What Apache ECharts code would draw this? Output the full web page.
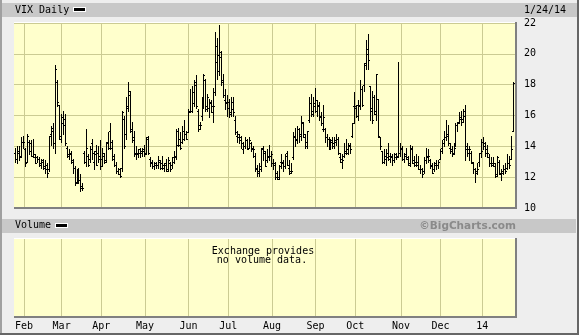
<!DOCTYPE html>
<html><head><meta charset="utf-8">
<script src="https://cdn.jsdelivr.net/npm/echarts@6/dist/echarts.min.js"></script>
<style>html,body{margin:0;padding:0;background:#eeeeee}#c{width:579px;height:335px}</style>
</head><body><div id="c"></div>
<script>
const dates = [
'2013-01-25','2013-01-28','2013-01-29','2013-01-30','2013-01-31',
'2013-02-01','2013-02-04','2013-02-05','2013-02-06','2013-02-07','2013-02-08','2013-02-11','2013-02-12','2013-02-13','2013-02-14','2013-02-15','2013-02-19','2013-02-20','2013-02-21','2013-02-22','2013-02-25','2013-02-26','2013-02-27','2013-02-28',
'2013-03-01','2013-03-04','2013-03-05','2013-03-06','2013-03-07','2013-03-08','2013-03-11','2013-03-12','2013-03-13','2013-03-14','2013-03-15','2013-03-18','2013-03-19','2013-03-20','2013-03-21','2013-03-22','2013-03-25','2013-03-26','2013-03-27','2013-03-28',
'2013-04-01','2013-04-02','2013-04-03','2013-04-04','2013-04-05','2013-04-08','2013-04-09','2013-04-10','2013-04-11','2013-04-12','2013-04-15','2013-04-16','2013-04-17','2013-04-18','2013-04-19','2013-04-22','2013-04-23','2013-04-24','2013-04-25','2013-04-26','2013-04-29','2013-04-30',
'2013-05-01','2013-05-02','2013-05-03','2013-05-06','2013-05-07','2013-05-08','2013-05-09','2013-05-10','2013-05-13','2013-05-14','2013-05-15','2013-05-16','2013-05-17','2013-05-20','2013-05-21','2013-05-22','2013-05-23','2013-05-24','2013-05-28','2013-05-29','2013-05-30','2013-05-31',
'2013-06-03','2013-06-04','2013-06-05','2013-06-06','2013-06-07','2013-06-10','2013-06-11','2013-06-12','2013-06-13','2013-06-14','2013-06-17','2013-06-18','2013-06-19','2013-06-20','2013-06-21','2013-06-24','2013-06-25','2013-06-26','2013-06-27','2013-06-28',
'2013-07-01','2013-07-02','2013-07-03','2013-07-05','2013-07-08','2013-07-09','2013-07-10','2013-07-11','2013-07-12','2013-07-15','2013-07-16','2013-07-17','2013-07-18','2013-07-19','2013-07-22','2013-07-23','2013-07-24','2013-07-25','2013-07-26','2013-07-29','2013-07-30','2013-07-31',
'2013-08-01','2013-08-02','2013-08-05','2013-08-06','2013-08-07','2013-08-08','2013-08-09','2013-08-12','2013-08-13','2013-08-14','2013-08-15','2013-08-16','2013-08-19','2013-08-20','2013-08-21','2013-08-22','2013-08-23','2013-08-26','2013-08-27','2013-08-28','2013-08-29','2013-08-30',
'2013-09-03','2013-09-04','2013-09-05','2013-09-06','2013-09-09','2013-09-10','2013-09-11','2013-09-12','2013-09-13','2013-09-16','2013-09-17','2013-09-18','2013-09-19','2013-09-20','2013-09-23','2013-09-24','2013-09-25','2013-09-26','2013-09-27','2013-09-30',
'2013-10-01','2013-10-02','2013-10-03','2013-10-04','2013-10-07','2013-10-08','2013-10-09','2013-10-10','2013-10-11','2013-10-14','2013-10-15','2013-10-16','2013-10-17','2013-10-18','2013-10-21','2013-10-22','2013-10-23','2013-10-24','2013-10-25','2013-10-28','2013-10-29','2013-10-30','2013-10-31',
'2013-11-01','2013-11-04','2013-11-05','2013-11-06','2013-11-07','2013-11-08','2013-11-11','2013-11-12','2013-11-13','2013-11-14','2013-11-15','2013-11-18','2013-11-19','2013-11-20','2013-11-21','2013-11-22','2013-11-25','2013-11-26','2013-11-27','2013-11-29',
'2013-12-02','2013-12-03','2013-12-04','2013-12-05','2013-12-06','2013-12-09','2013-12-10','2013-12-11','2013-12-12','2013-12-13','2013-12-16','2013-12-17','2013-12-18','2013-12-19','2013-12-20','2013-12-23','2013-12-24','2013-12-26','2013-12-27','2013-12-30','2013-12-31',
'2014-01-02','2014-01-03','2014-01-06','2014-01-07','2014-01-08','2014-01-09','2014-01-10','2014-01-13','2014-01-14','2014-01-15','2014-01-16','2014-01-17','2014-01-21','2014-01-22','2014-01-23','2014-01-24'
];
const opens = [
13.6,13.2,13.7,13.4,14.3,13.8,13.0,14.3,14.2,13.4,
13.3,13.3,13.2,12.8,13.1,12.6,12.8,12.5,14.8,15.0,
14.2,18.2,16.7,14.5,15.9,15.8,13.9,13.4,13.6,13.0,
12.6,11.7,12.4,11.8,11.4,13.6,13.0,13.4,13.2,14.2,
13.0,13.7,13.6,13.4,13.2,13.4,13.1,14.3,15.0,14.3,
13.4,12.8,12.4,12.5,12.6,15.8,14.8,16.6,17.3,15.1,
14.6,13.6,13.5,13.8,13.7,13.8,13.6,14.6,13.2,13.0,
12.7,12.9,12.8,13.0,12.9,12.8,12.9,12.5,12.9,12.8,
13.3,13.3,15.0,14.5,14.3,15.0,14.8,14.9,16.2,16.3,
16.8,18.2,16.3,15.4,16.0,16.8,18.3,16.6,16.5,16.9,
16.2,17.5,19.5,19.9,19.8,18.3,17.0,16.8,16.5,16.2,
16.9,15.7,14.7,14.6,14.6,13.8,14.0,14.4,13.9,14.2,
13.9,13.4,12.6,12.4,12.5,13.9,13.6,13.1,13.3,13.4,
12.9,12.8,12.3,12.0,13.0,12.9,12.7,13.6,12.6,12.4,
13.3,14.6,14.5,15.1,14.8,15.5,14.6,14.3,15.7,16.8,
16.3,16.6,16.3,16.7,16.0,15.1,15.1,14.6,14.5,13.9,
14.4,14.0,14.3,14.5,13.3,13.0,13.4,13.7,13.6,14.1,
14.7,16.6,16.5,16.7,16.7,17.7,18.0,19.3,20.0,17.9,
16.3,17.2,16.3,17.1,14.6,13.7,13.0,13.4,13.6,13.4,
13.4,13.1,13.5,13.3,13.6,13.9,13.2,13.5,13.2,12.8,
13.8,13.1,13.0,13.0,12.5,12.5,12.4,13.1,13.3,13.1,
12.8,12.5,12.9,12.8,13.2,13.9,14.5,14.6,14.8,13.9,
13.7,13.6,14.0,15.4,15.6,15.9,15.8,16.3,14.0,13.6,
13.6,12.9,12.5,12.4,13.0,13.6,14.3,14.0,13.6,13.3,
12.9,12.8,12.7,12.2,13.0,12.2,12.4,12.5,12.6,12.9,
13.2,15.0
];
const highs = [
13.9,14.0,14.0,14.6,14.7,13.9,14.8,14.4,14.4,14.5,
13.5,13.4,13.3,13.2,13.2,13.1,12.9,14.7,15.3,15.5,
19.3,18.3,16.7,16.1,16.3,16.1,14.0,13.8,13.7,13.2,
12.7,12.5,12.6,12.2,11.6,13.7,15.1,13.5,14.0,14.5,
13.7,14.1,14.0,14.4,13.9,13.6,14.3,14.9,15.5,14.4,
13.5,13.0,12.6,12.6,16.3,16.0,17.2,18.2,17.6,15.6,
15.0,14.0,13.8,13.9,13.9,14.1,14.6,14.7,13.3,13.1,
13.0,13.0,13.4,13.1,13.4,12.9,13.2,13.3,13.0,13.3,
13.7,15.1,15.2,14.9,15.3,15.7,15.0,16.4,17.7,17.9,
18.3,18.6,16.4,15.6,17.2,18.7,18.4,17.4,17.1,17.0,
17.8,21.4,21.0,21.9,20.2,18.7,17.7,17.3,17.1,17.2,
17.2,16.0,15.0,14.8,14.7,14.3,14.6,14.5,14.6,14.3,
14.0,13.6,12.8,12.9,13.9,14.0,13.7,13.8,14.1,13.7,
13.2,13.0,12.4,12.8,13.5,13.1,13.5,13.7,13.1,12.9,
14.9,15.2,15.3,15.2,16.0,15.6,14.8,15.0,17.2,17.4,
17.2,17.8,17.0,16.9,16.2,16.7,15.2,14.8,14.6,14.5,
14.6,14.6,14.8,14.6,13.6,13.5,14.2,14.5,14.2,14.2,
15.5,17.5,16.7,17.0,18.3,17.9,19.4,20.9,21.3,17.9,
17.6,17.3,18.7,17.1,14.6,13.7,13.8,13.8,14.2,13.6,
13.5,13.6,13.6,19.5,14.2,14.0,13.6,13.9,13.4,14.1,
14.0,13.4,13.5,13.4,12.8,12.6,13.3,13.9,13.8,13.2,
12.9,13.0,13.1,13.1,13.8,14.4,15.0,15.7,15.4,14.2,
14.0,14.2,15.5,15.6,16.2,16.3,16.4,16.7,14.2,14.0,
13.7,13.0,12.6,12.9,13.6,14.5,14.6,14.3,14.1,13.5,
13.3,13.3,12.9,13.4,13.1,12.5,12.8,12.9,13.5,13.4,
14.7,18.2
];
const lows = [
13.0,12.9,13.1,13.3,13.9,12.7,13.0,13.5,13.4,13.3,
12.9,13.0,12.7,12.6,12.5,12.3,12.0,12.4,14.1,13.9,
13.6,16.6,14.5,14.3,14.8,14.1,13.3,13.2,12.9,12.3,
11.5,11.6,11.6,11.1,11.2,12.9,12.7,12.7,13.0,13.2,
12.5,12.8,13.0,12.5,12.7,12.9,13.0,13.8,13.8,13.1,
12.7,12.3,12.2,12.0,12.4,13.9,14.5,16.3,14.9,14.3,
13.4,13.2,13.3,13.3,13.4,13.4,13.5,13.5,12.7,12.6,
12.5,12.6,12.6,12.5,12.5,12.4,12.4,12.4,12.4,12.6,
12.9,13.2,14.0,13.8,14.2,14.4,14.5,14.9,16.2,16.2,
16.6,16.5,15.0,15.1,15.7,16.5,16.3,16.3,15.9,16.2,
15.6,17.3,18.4,18.6,18.0,17.2,16.4,16.0,15.9,16.0,
16.0,14.8,14.3,14.2,13.9,13.6,13.9,13.8,13.9,13.7,
13.3,12.4,12.1,12.1,12.4,13.1,12.7,13.0,13.1,12.7,
12.5,11.9,11.9,11.9,12.6,12.4,12.6,12.8,12.2,12.3,
13.2,14.0,14.2,14.3,14.4,14.6,13.9,13.9,15.6,16.0,
16.0,16.2,16.0,15.7,15.4,15.0,14.3,14.0,13.8,13.8,
13.9,13.9,14.1,13.5,13.0,12.6,13.3,13.5,13.5,13.6,
14.6,15.5,15.9,15.7,16.4,16.6,17.6,19.0,19.0,15.7,
15.5,16.1,15.7,14.6,13.8,12.9,12.9,12.8,13.1,13.0,
12.8,13.0,13.2,13.3,13.4,13.1,13.0,13.2,12.8,12.7,
12.9,12.7,12.7,12.5,12.3,12.0,12.3,12.9,13.0,12.6,
12.3,12.4,12.5,12.6,13.2,13.6,14.0,14.4,14.1,13.6,
13.4,13.5,14.0,15.0,15.5,15.4,15.6,13.1,13.4,13.1,
12.9,12.3,11.7,12.2,12.7,13.3,13.8,13.4,13.3,12.7,
12.7,12.7,12.0,12.1,12.2,11.8,12.2,12.3,12.5,12.6,
13.2,15.0
];
const closes = [
13.2,13.6,13.3,14.3,14.3,12.9,14.7,13.7,13.4,13.5,
12.9,13.2,12.9,13.0,12.7,12.5,12.3,14.7,15.2,14.2,
19.0,16.9,14.7,15.5,15.4,14.2,13.5,13.5,13.1,12.6,
11.6,12.3,11.8,11.3,11.3,13.0,13.9,12.8,13.8,13.6,
13.5,12.8,13.2,12.7,13.6,13.0,14.2,13.9,13.9,13.2,
12.8,12.4,12.2,12.1,16.2,14.0,16.5,17.6,15.0,14.4,
13.5,13.6,13.6,13.6,13.7,13.5,14.5,13.6,12.9,12.7,
12.8,12.8,13.1,12.6,12.6,12.8,12.4,13.1,12.5,13.0,
13.4,14.1,14.1,13.9,14.5,14.8,14.5,16.3,16.3,17.5,
18.0,16.6,15.1,15.4,17.1,18.6,16.4,17.2,16.8,16.6,
16.6,20.5,18.9,20.1,18.2,17.3,16.9,16.9,16.1,16.4,
16.2,14.9,14.8,14.4,14.2,14.0,14.4,13.8,14.4,13.8,
13.8,12.5,12.3,12.7,13.8,13.7,12.7,13.4,13.4,13.5,
12.9,12.0,11.9,12.7,13.0,12.7,13.4,12.8,12.3,12.4,
14.7,14.4,15.1,14.7,15.6,14.8,14.0,15.0,16.8,16.1,
16.8,17.0,16.6,15.9,15.5,15.9,14.6,14.5,13.8,14.3,
14.2,14.4,14.5,13.6,13.2,13.1,13.6,13.8,14.0,13.8,
15.5,16.6,16.0,16.6,17.7,16.7,19.4,20.3,19.6,16.5,
15.7,16.1,18.7,14.7,14.0,13.0,13.2,13.3,13.2,13.3,
13.1,13.3,13.4,13.6,13.8,13.2,13.4,13.3,12.9,13.9,
12.9,12.8,12.8,12.5,12.5,12.2,13.1,13.4,13.4,12.7,
12.3,12.8,12.8,13.0,13.7,14.2,14.6,14.7,14.2,13.8,
13.5,13.9,15.4,15.5,15.8,15.6,16.0,13.8,13.8,13.8,
13.0,12.5,12.3,12.5,13.6,13.7,14.2,13.8,13.6,12.9,
12.9,12.9,12.1,13.3,12.3,12.3,12.5,12.4,12.9,12.8,
13.8,18.1
];
const xTickLabels = ['Feb','Mar','Apr','May','Jun','Jul','Aug','Sep','Oct','Nov','Dec','14'];
const yMin = 10, yMax = 22, yStep = 2;
const titleText = 'VIX Daily';
const dateText = '1/24/14';
const volumeTitle = 'Volume';
const noVolumeLines = ['Exchange provides', 'no volume data.'];
const creditText = '\u00A9BigCharts.com';

const monthStarts = [];
for (let i = 1; i < dates.length; i++) {
  if (dates[i].slice(5, 7) !== dates[i - 1].slice(5, 7)) monthStarts.push(i);
}
const cats = dates.concat(['pad1', 'pad2']);
const ohlc = dates.map((d, i) => [i, opens[i], highs[i], lows[i], closes[i]]);

const MONO = '"DejaVu Sans Mono", monospace';
const GRID_COLOR = '#cbcb93';
const isMonth = (idx) => monthStarts.indexOf(idx) >= 0;

const chart = echarts.init(document.getElementById('c'), null, {renderer: 'canvas'});
chart.setOption({
  animation: false,
  backgroundColor: '#eeeeee',
  grid: [
    {left: 14, right: 63, top: 23, height: 185, show: true, backgroundColor: '#ffffcc', borderWidth: 0},
    {left: 14, right: 63, top: 239, height: 78, show: true, backgroundColor: '#ffffcc', borderWidth: 0}
  ],
  xAxis: [
    {type: 'category', gridIndex: 0, data: cats, boundaryGap: false,
     axisLine: {show: false}, axisTick: {show: false}, axisLabel: {show: false},
     splitLine: {show: true, interval: (i) => isMonth(i), lineStyle: {color: GRID_COLOR, width: 1}}},
    {type: 'category', gridIndex: 1, data: cats, boundaryGap: false,
     axisLine: {show: false}, axisTick: {show: false},
     axisLabel: {show: true, interval: (i) => isMonth(i), margin: 4,
       formatter: (v, i) => { const k = monthStarts.indexOf(i); return k >= 0 ? xTickLabels[k] : ''; },
       fontFamily: MONO, fontSize: 10, color: '#000'},
     splitLine: {show: true, interval: (i) => isMonth(i), lineStyle: {color: GRID_COLOR, width: 1}}}
  ],
  yAxis: [
    {type: 'value', gridIndex: 0, position: 'right', min: yMin, max: yMax, interval: yStep,
     axisLine: {show: false}, axisTick: {show: false},
     axisLabel: {margin: 8, fontFamily: MONO, fontSize: 10, color: '#000'},
     splitLine: {show: true, lineStyle: {color: GRID_COLOR, width: 1}}},
    {type: 'value', gridIndex: 1, show: false, min: 0, max: 1, splitLine: {show: false}}
  ],
  series: [{
    type: 'custom', xAxisIndex: 0, yAxisIndex: 0, data: ohlc, clip: true,
    encode: {x: 0, y: [1, 2, 3, 4]},
    renderItem: function (params, api) {
      const idx = api.value(0);
      const o = api.coord([idx, api.value(1)]);
      const h = api.coord([idx, api.value(2)]);
      const l = api.coord([idx, api.value(3)]);
      const c = api.coord([idx, api.value(4)]);
      const x = Math.round(h[0]) + 1;
      const yh = Math.round(h[1]), yl = Math.round(l[1]);
      const yo = Math.round(o[1]), yc = Math.round(c[1]);
      return {type: 'group', children: [
        {type: 'rect', shape: {x: x, y: yh, width: 1, height: Math.max(1, yl - yh + 1)}, style: {fill: '#000'}},
        {type: 'rect', shape: {x: x - 1, y: yo, width: 1, height: 1}, style: {fill: '#000'}},
        {type: 'rect', shape: {x: x + 1, y: yc, width: 1, height: 1}, style: {fill: '#000'}}
      ]};
    }
  }],
  graphic: [
    {type: 'rect', z: 50, shape: {x: 2, y: 3, width: 575, height: 14}, style: {fill: '#c8c8c8'}},
    {type: 'rect', z: 50, shape: {x: 2, y: 219, width: 574, height: 14}, style: {fill: '#c8c8c8'}},
    {type: 'rect', z: 50, shape: {x: 0, y: 0, width: 2, height: 335}, style: {fill: '#a0a0a0'}},
    {type: 'rect', z: 50, shape: {x: 577, y: 0, width: 2, height: 335}, style: {fill: '#666666'}},
    {type: 'rect', z: 50, shape: {x: 0, y: 333, width: 579, height: 2}, style: {fill: '#666666'}},
    {type: 'text', z: 60, style: {text: titleText, x: 15, y: 10, font: '10px ' + MONO, fill: '#000', align: 'left', verticalAlign: 'middle'}},
    {type: 'rect', z: 60, shape: {x: 73, y: 7, width: 13, height: 5}, style: {fill: '#ffffff'}},
    {type: 'rect', z: 61, shape: {x: 74, y: 8, width: 11, height: 3}, style: {fill: '#000000'}},
    {type: 'text', z: 60, style: {text: dateText, x: 524, y: 10, font: '10px ' + MONO, fill: '#000', align: 'left', verticalAlign: 'middle'}},
    {type: 'text', z: 60, style: {text: volumeTitle, x: 15, y: 225.5, font: '10px ' + MONO, fill: '#000', align: 'left', verticalAlign: 'middle'}},
    {type: 'rect', z: 60, shape: {x: 55, y: 223, width: 13, height: 5}, style: {fill: '#ffffff'}},
    {type: 'rect', z: 61, shape: {x: 56, y: 224, width: 11, height: 3}, style: {fill: '#000000'}},
    {type: 'text', z: 60, style: {text: creditText, x: 516, y: 226, font: 'bold 10.5px "DejaVu Sans", sans-serif', fill: '#8a8a8a', align: 'right', verticalAlign: 'middle'}},
    {type: 'text', z: 60, style: {text: noVolumeLines[0], x: 263, y: 251.5, font: '10px ' + MONO, fill: '#000', align: 'center', verticalAlign: 'middle'}},
    {type: 'text', z: 60, style: {text: noVolumeLines[1], x: 262, y: 260.5, font: '10px ' + MONO, fill: '#000', align: 'center', verticalAlign: 'middle'}},
    // plot borders (upper)
    {type: 'rect', z: 55, shape: {x: 14, y: 22, width: 502, height: 1}, style: {fill: '#ffffff'}},
    {type: 'rect', z: 55, shape: {x: 14, y: 207, width: 503, height: 2}, style: {fill: '#808080'}},
    {type: 'rect', z: 55, shape: {x: 515, y: 22, width: 2, height: 187}, style: {fill: '#808080'}},
    // plot borders (lower)
    {type: 'rect', z: 55, shape: {x: 14, y: 238, width: 502, height: 1}, style: {fill: '#ffffff'}},
    {type: 'rect', z: 55, shape: {x: 14, y: 316, width: 503, height: 2}, style: {fill: '#808080'}},
    {type: 'rect', z: 55, shape: {x: 515, y: 238, width: 2, height: 80}, style: {fill: '#808080'}}
  ]
});
</script>
</body></html>
